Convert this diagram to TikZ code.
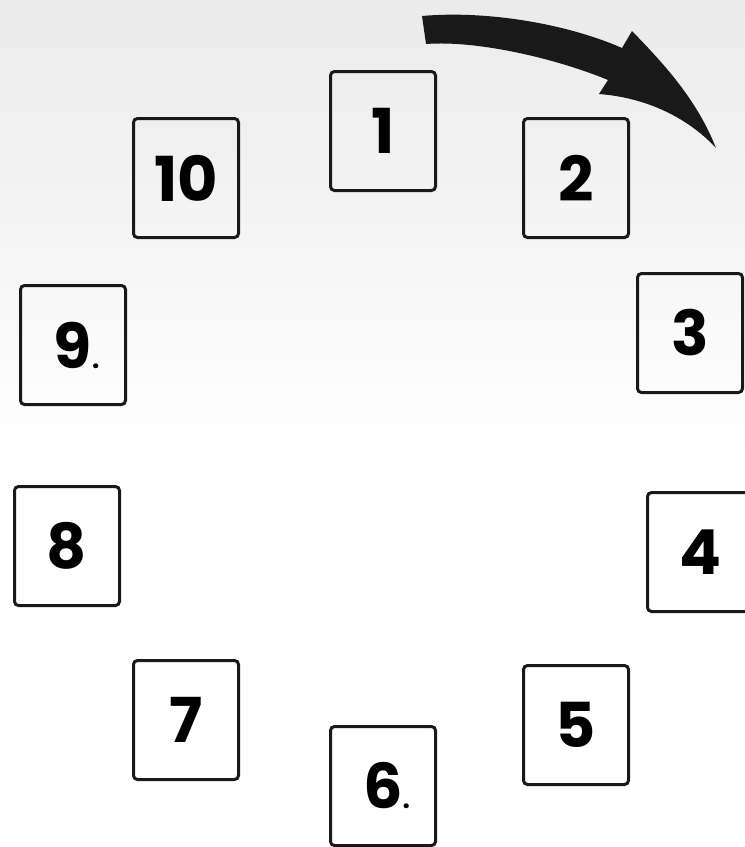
\documentclass[tikz,border=0pt]{standalone}
\usepackage{fontspec}
\newfontfamily\cardfont{Poppins}
\begin{document}
\begin{tikzpicture}[x=1pt,y=-1pt,
  card/.style={draw=black!90, line width=3pt, rounded corners=4pt,
    minimum width=105pt, minimum height=119pt, inner sep=0pt,
    font=\cardfont\bfseries\fontsize{62}{62}\selectfont}]
\useasboundingbox (0,0) rectangle (745,847);
\clip (0,0) rectangle (745,847);
\shade[top color=black!8, bottom color=white] (0,0) rectangle (745,460);
\fill[white] (0,459) rectangle (745,847);
% cards
\node[card] (c1) at (383,131) {1};
\node[card] (c2) at (576,178) {2};
\node[card] (c3) at (690,333) {3};
\node[card] (c4) at (700,552) {4};
\node[card] (c5) at (576,725) {5};
\node[card] (c6) at (383,786) {6\rlap{\fontsize{26}{26}\selectfont.}};
\node[card] (c7) at (186,720) {7};
\node[card] (c8) at (67,546) {8};
\node[card] (c9) at (73,345) {9\rlap{\fontsize{26}{26}\selectfont.}};
\node[card] (c10) at (186,178) {10};
% arrow
\fill[black!90] (422,16) .. controls (490,10) and (570,25) .. (622,48)
  -- (632,31) .. controls (665,65) and (697,100) .. (716,148)
  .. controls (690,120) and (650,98) .. (599,94)
  -- (608,80) .. controls (560,60) and (480,40) .. (426,44) -- cycle;
\end{tikzpicture}
\end{document}
